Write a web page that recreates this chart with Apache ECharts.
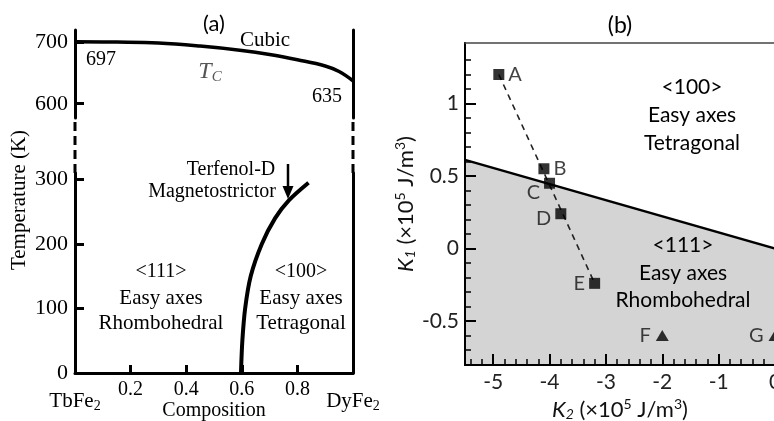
<!DOCTYPE html>
<html><head><meta charset="utf-8">
<script src="https://cdn.jsdelivr.net/npm/echarts@6/dist/echarts.min.js"></script>
<style>html,body{margin:0;padding:0;background:#fff}#c{width:774px;height:421px}</style>
</head><body><div id="c"></div><script>
// ---------- Panel (a) data ----------
const compTicks = [0.2, 0.4, 0.6, 0.8];
const compEnds = [0, 1];
const tempTicksUpper = [600, 700];
const tempTicksLower = [0, 100, 200, 300];
const tcComp = [0, 0.15, 0.3, 0.45, 0.6, 0.7, 0.8, 0.9, 0.95, 1.0];
const tcTemp = [700, 699.5, 698, 693, 686, 679.5, 671, 661, 652, 637];
const srComp = [0.597, 0.602, 0.612, 0.632, 0.672, 0.72, 0.77, 0.84];
const srTemp = [0, 50, 100, 150, 200, 240, 268, 295];
// axis-break edges (composition 0 and 1), drawn dashed in the gap grid
const breakComp = [0, 1];
const breakSpan = [0, 1];
// ---------- Panel (b) data ----------
const k2Labels = [-5, -4, -3, -2, -1, 0];
const k2MinorTicks = [-5.4,-5.2,-4.8,-4.6,-4.4,-4.2,-3.8,-3.6,-3.4,-3.2,-2.8,-2.6,-2.4,-2.2,-1.8,-1.6,-1.4,-1.2,-0.8,-0.6,-0.4,-0.2];
const k1Labels = [-0.5, 0, 0.5, 1];
const k1MinorTicks = [-0.7,-0.6,-0.4,-0.3,-0.2,-0.1,0.1,0.2,0.3,0.4,0.6,0.7,0.8,0.9,1.1,1.2,1.3];
const boundaryK2 = [-5.5, 0];
const boundaryK1 = [0.611, 0];
const sqNames = ['A', 'B', 'C', 'D', 'E'];
const sqK2 = [-4.9, -4.1, -4.0, -3.8, -3.2];
const sqK1 = [1.2, 0.55, 0.45, 0.24, -0.24];
const triNames = ['F', 'G'];
const triK2 = [-2, 0];
const triK1 = [-0.6, -0.6];

const SERIF = 'Liberation Serif';
const SANS = 'Lato';
const zip = (a, b) => a.map((v, i) => [v, b[i]]);

const sqLabelPos = {A:{position:'right'}, B:{position:'right'}, C:{position:'left', offset:[0,9]}, D:{position:'left', offset:[0,5]}, E:{position:'left'}};
const triLabelPos = {F:{position:'left'}, G:{position:'left'}};

const chart = echarts.init(document.getElementById('c'));

const blackLine = (w) => ({show:true, onZero:false, lineStyle:{color:'#000', width:w}});
const hidden = {show:false};
const noLine = {show:false, onZero:false};
function plainY(grid, pos, min, max, lineStyle) {
  return {type:'value', gridIndex:grid, position:pos, min:min, max:max,
    axisLine:{show:true, onZero:false, lineStyle:lineStyle},
    axisTick:hidden, axisLabel:hidden, splitLine:hidden, z:5};
}

const richSubSup = (fs, sub, fam) => ({
  i:{fontFamily:fam, fontSize:fs, fontStyle:'italic', color:'#111'},
  s:{fontFamily:fam, fontSize:sub, fontStyle:'italic', color:'#111', padding:[10,0,0,0]},
  n:{fontFamily:fam, fontSize:fs, color:'#111'},
  p:{fontFamily:fam, fontSize:sub, color:'#111', padding:[0,0,10,0]}
});

const G = (o) => Object.assign({outerBoundsMode:'none', containLabel:false}, o);
const option = {
  backgroundColor:'#fff',
  animation:false,
  grid:[
    G({left:75, width:278, top:30, height:88}),
    G({left:75, width:278, top:118, height:55}),
    G({left:75, width:278, top:173, height:200}),
    G({left:465, width:310, top:43, height:322})
  ],
  xAxis:[
    {type:'value', gridIndex:0, min:0, max:1, show:false},
    {type:'value', gridIndex:1, min:0, max:1, show:false},
    {type:'value', gridIndex:2, min:0, max:1, position:'bottom', z:5,
      axisLine:blackLine(3),
      axisTick:{show:true, inside:true, length:8, lineStyle:{width:3, color:'#000'}, customValues:compTicks},
      axisLabel:{show:true, customValues:compTicks, margin:7, fontFamily:SERIF, fontSize:20, color:'#000'},
      splitLine:hidden,
      name:'Composition', nameLocation:'middle', nameGap:26,
      nameTextStyle:{fontFamily:SERIF, fontSize:20, color:'#000'}},
    {type:'value', gridIndex:2, min:0, max:1, position:'bottom',
      axisLine:noLine, axisTick:hidden, splitLine:hidden,
      axisLabel:{show:true, customValues:compEnds, margin:16, showMinLabel:true, showMaxLabel:true,
        formatter:(v) => v === 0 ? '{e|TbFe}{s|2}' : '{e|DyFe}{s|2}',
        rich:{e:{fontFamily:SERIF, fontSize:21, color:'#000'}, s:{fontFamily:SERIF, fontSize:14, color:'#000', padding:[10,0,0,0]}}}},
    {type:'value', gridIndex:3, min:-5.5, max:0, position:'bottom', z:5,
      axisLine:blackLine(2),
      axisTick:{show:true, inside:true, length:11, lineStyle:{width:2, color:'#000'}, customValues:k2Labels},
      axisLabel:{show:true, customValues:k2Labels, margin:7, fontFamily:SANS, fontSize:21, color:'#222', showMaxLabel:true},
      splitLine:hidden,
      name:'{i|K}{s|2}{n| (×10}{p|5}{n| J/m}{p|3}{n|)}', nameLocation:'middle', nameGap:31,
      nameTextStyle:{fontFamily:SANS, fontSize:22, rich:richSubSup(22, 14, SANS)}},
    {type:'value', gridIndex:3, min:-5.5, max:0, position:'bottom', z:5,
      axisLine:{show:true, onZero:false, lineStyle:{color:'#000', width:2}}, axisLabel:hidden, splitLine:hidden,
      axisTick:{show:true, inside:true, length:6, lineStyle:{width:1.5, color:'#000'}, customValues:k2MinorTicks}},
    {type:'value', gridIndex:3, min:-5.5, max:0, position:'top', z:5,
      axisLine:{show:true, onZero:false, lineStyle:{color:'#444', width:1.5}},
      axisTick:hidden, axisLabel:hidden, splitLine:hidden}
  ],
  yAxis:[
    {type:'value', gridIndex:0, position:'left', min:577, max:719, z:5,
      axisLine:blackLine(3),
      axisTick:{show:true, inside:true, length:9, lineStyle:{width:3, color:'#000'}, customValues:tempTicksUpper},
      axisLabel:{show:true, customValues:tempTicksUpper, margin:7, fontFamily:SERIF, fontSize:22, color:'#000'},
      splitLine:hidden},
    plainY(0, 'right', 577, 719, {color:'#000', width:3}),
    {type:'value', gridIndex:1, min:0, max:1, show:false},
    {type:'value', gridIndex:2, position:'left', min:0, max:310, z:5,
      axisLine:blackLine(3),
      axisTick:{show:true, inside:true, length:9, lineStyle:{width:3, color:'#000'}, customValues:tempTicksLower},
      axisLabel:{show:true, customValues:tempTicksLower, margin:7, fontFamily:SERIF, fontSize:22, color:'#000', showMinLabel:true},
      splitLine:hidden},
    plainY(2, 'right', 0, 310, {color:'#000', width:3}),
    {type:'value', gridIndex:3, position:'left', min:-0.803, max:1.417, z:5,
      axisLine:blackLine(2),
      axisTick:{show:true, inside:true, length:11, lineStyle:{width:2, color:'#000'}, customValues:k1Labels},
      axisLabel:{show:true, customValues:k1Labels, margin:6, fontFamily:SANS, fontSize:21, color:'#222'},
      splitLine:hidden,
      name:'{i|K}{s|1}{n| (×10}{p|5}{n| J/m}{p|3}{n|)}', nameLocation:'middle', nameGap:31, nameRotate:90,
      nameTextStyle:{fontFamily:SANS, fontSize:22, rich:richSubSup(22, 14, SANS)}},
    {type:'value', gridIndex:3, position:'left', min:-0.803, max:1.417, z:5,
      axisLine:{show:true, onZero:false, lineStyle:{color:'#000', width:2}}, axisLabel:hidden, splitLine:hidden,
      axisTick:{show:true, inside:true, length:6, lineStyle:{width:1.5, color:'#000'}, customValues:k1MinorTicks}}
  ],
  series:[
    {type:'line', xAxisIndex:0, yAxisIndex:0, data:zip(tcComp, tcTemp), smooth:0.4, showSymbol:false,
      lineStyle:{color:'#000', width:3.5}},
    {type:'line', xAxisIndex:1, yAxisIndex:2, data:[[breakComp[0], breakSpan[0]], [breakComp[0], breakSpan[1]]], showSymbol:false, clip:false,
      lineStyle:{color:'#000', width:3, type:[9,5]}},
    {type:'line', xAxisIndex:1, yAxisIndex:2, data:[[breakComp[1], breakSpan[0]], [breakComp[1], breakSpan[1]]], showSymbol:false, clip:false,
      lineStyle:{color:'#000', width:3, type:[9,5]}},
    {type:'line', xAxisIndex:2, yAxisIndex:3, data:zip(srComp, srTemp), smooth:0.3, showSymbol:false,
      lineStyle:{color:'#000', width:4}},
    {type:'line', xAxisIndex:4, yAxisIndex:5, data:zip(boundaryK2, boundaryK1), showSymbol:false, z:1,
      lineStyle:{color:'#000', width:2.5},
      areaStyle:{color:'#d4d4d4', opacity:1, origin:'start'}},
    {type:'line', xAxisIndex:4, yAxisIndex:5, data:[zip(sqK2, sqK1)[0], zip(sqK2, sqK1)[4]], showSymbol:false, z:3,
      lineStyle:{color:'#222', width:1.6, type:[6,5]}},
    {type:'scatter', xAxisIndex:4, yAxisIndex:5, symbol:'rect', symbolSize:11, z:4,
      itemStyle:{color:'#000'},
      label:{show:true, formatter:'{b}', fontFamily:SANS, fontSize:20, color:'#111', distance:4},
      data:sqNames.map((n, i) => ({name:n, value:[sqK2[i], sqK1[i]], label:sqLabelPos[n]}))},
    {type:'scatter', xAxisIndex:4, yAxisIndex:5, symbol:'triangle', symbolSize:[13,11], z:4, clip:false,
      itemStyle:{color:'#000'},
      label:{show:true, formatter:'{b}', fontFamily:SANS, fontSize:20, color:'#111', distance:5},
      data:triNames.map((n, i) => ({name:n, value:[triK2[i], triK1[i]], label:triLabelPos[n]}))}
  ],
  graphic:[]
};

function txt(x, y, text, font, extra) {
  return Object.assign({type:'text', x:x, y:y, z:20, style:{text:text, font:font, fill:'#000', align:'center', verticalAlign:'middle'}}, extra || {});
}
const serif20 = '20px "' + SERIF + '"';
const serif21 = '21px "' + SERIF + '"';
const sans21 = '21px ' + SANS;
option.graphic = [
  txt(214, 24, '(a)', '22px ' + SANS),
  txt(265, 40, 'Cubic', serif21),
  txt(101, 60, '697', serif20),
  txt(327, 97, '635', serif20),
  {type:'text', x:210, y:72, z:20, style:{text:'{t|T}{c|C}', align:'center', verticalAlign:'middle',
    rich:{t:{fontFamily:SERIF, fontSize:24, fontStyle:'italic', fill:'#555'},
          c:{fontFamily:SERIF, fontSize:15, fontStyle:'italic', fill:'#555', padding:[11,0,0,0]}}}},
  txt(231, 170, 'Terfenol-D', serif20),
  txt(212, 192, 'Magnetostrictor', serif20),
  txt(161, 272, '<111>', serif20),
  txt(161, 298, 'Easy axes', serif21),
  txt(161, 323, 'Rhombohedral', serif21),
  txt(301, 272, '<100>', serif20),
  txt(301, 298, 'Easy axes', serif21),
  txt(301, 323, 'Tetragonal', serif21),
  txt(19, 200, 'Temperature (K)', serif21, {rotation:Math.PI/2}),
  {type:'line', z:20, shape:{x1:288, y1:164, x2:288, y2:188}, style:{stroke:'#000', lineWidth:2.5}},
  {type:'polygon', z:20, shape:{points:[[282.5,186],[293.5,186],[288,199]]}, style:{fill:'#000'}},
  txt(620, 26, '(b)', '23px ' + SANS),
  txt(692, 87, '<100>', sans21),
  txt(692, 115, 'Easy axes', sans21),
  txt(692, 143, 'Tetragonal', sans21),
  txt(683, 245, '<111>', sans21),
  txt(683, 273, 'Easy axes', sans21),
  txt(683, 300, 'Rhombohedral', sans21)
];

chart.setOption(option);
</script></body></html>
